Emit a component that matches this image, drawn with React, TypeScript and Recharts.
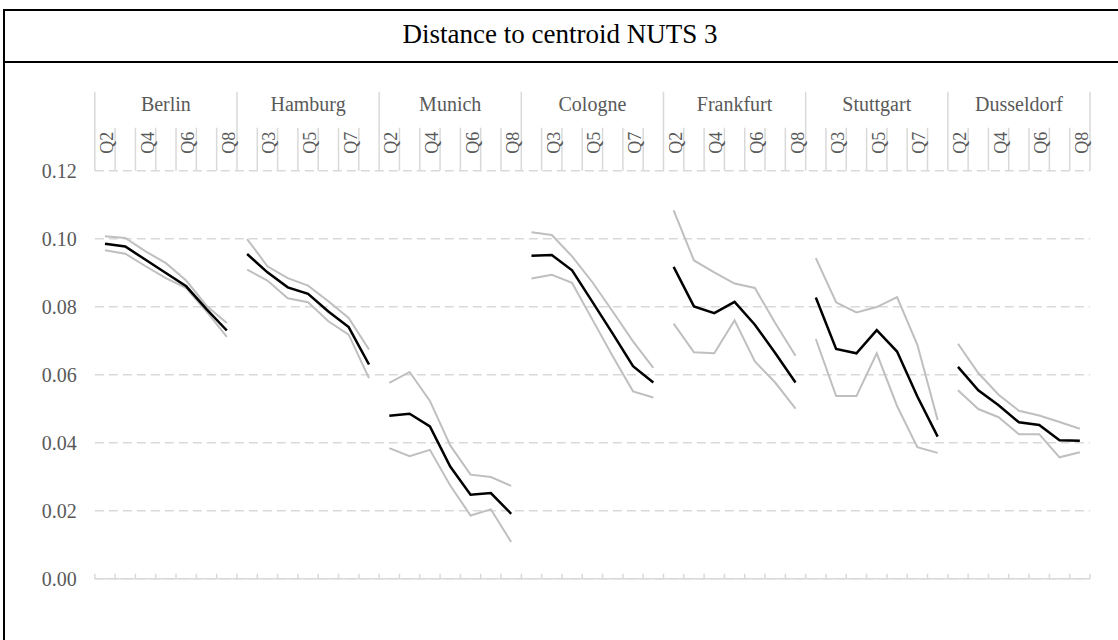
import { CartesianGrid, Line, LineChart, XAxis, YAxis } from 'recharts'

const CITIES = ['Berlin', 'Hamburg', 'Munich', 'Cologne', 'Frankfurt', 'Stuttgart', 'Dusseldorf']
const QUARTERS = ['Q2', 'Q3', 'Q4', 'Q5', 'Q6', 'Q7', 'Q8']
const Y_TICKS = [0, 0.02, 0.04, 0.06, 0.08, 0.1, 0.12]

// mean distance per city and quarter
const MEAN = [
  [0.0985, 0.0977, 0.0938, 0.0899, 0.086, 0.0793, 0.073],
  [0.0955, 0.0901, 0.0857, 0.0838, 0.0786, 0.074, 0.063],
  [0.0479, 0.0485, 0.0448, 0.033, 0.0247, 0.0252, 0.0191],
  [0.095, 0.0952, 0.0907, 0.0814, 0.0721, 0.0625, 0.0577],
  [0.0917, 0.0801, 0.0781, 0.0814, 0.0747, 0.0664, 0.0577],
  [0.0827, 0.0676, 0.0663, 0.0731, 0.0668, 0.0536, 0.0418],
  [0.0623, 0.0554, 0.051, 0.046, 0.0452, 0.0407, 0.0406],
]

// upper band
const UPPER = [
  [0.1007, 0.1002, 0.0963, 0.0928, 0.0877, 0.0803, 0.0752],
  [0.0999, 0.0919, 0.0884, 0.0862, 0.0816, 0.0767, 0.0674],
  [0.0576, 0.0608, 0.0523, 0.0392, 0.0306, 0.0299, 0.0273],
  [0.1019, 0.1011, 0.0948, 0.0872, 0.0786, 0.0698, 0.062],
  [0.1083, 0.0936, 0.0901, 0.0868, 0.0855, 0.0752, 0.0656],
  [0.0943, 0.0813, 0.0783, 0.0799, 0.0828, 0.0688, 0.0467],
  [0.0691, 0.0605, 0.0541, 0.0494, 0.048, 0.0461, 0.0441],
]

// lower band
const LOWER = [
  [0.0966, 0.0956, 0.0919, 0.0884, 0.0855, 0.0786, 0.0711],
  [0.0909, 0.0877, 0.0825, 0.0813, 0.0757, 0.0718, 0.059],
  [0.0384, 0.036, 0.0379, 0.0274, 0.0186, 0.0204, 0.0108],
  [0.0883, 0.0894, 0.087, 0.0762, 0.0654, 0.0551, 0.0533],
  [0.075, 0.0666, 0.0663, 0.076, 0.0639, 0.0577, 0.05],
  [0.0705, 0.0537, 0.0537, 0.0663, 0.0508, 0.0387, 0.037],
  [0.0554, 0.0499, 0.0475, 0.0425, 0.0425, 0.0357, 0.0372],
]

const NQ = QUARTERS.length
const COUNT = CITIES.length * NQ
const FONT = '"Liberation Serif", "Times New Roman", serif'
const LABEL = '#595959'
const RULE = '#d9d9d9'

// one row per city/quarter, each city gets its own keys so the lines break between cities
const rows = CITIES.flatMap((_, ci) =>
  QUARTERS.map((q, qi) => ({
    idx: ci * NQ + qi,
    quarter: q,
    ['mean' + ci]: MEAN[ci][qi],
    ['up' + ci]: UPPER[ci][qi],
    ['lo' + ci]: LOWER[ci][qi],
  })),
)

const centers = rows.map((r) => r.idx)
const bounds = Array.from({ length: COUNT + 1 }, (_, i) => i - 0.5)
const topTicks = [...bounds, ...centers]

function CategoryTick(props: any) {
  const { x, y, payload } = props
  const v = payload.value as number
  if (!Number.isInteger(v)) {
    const isCity = Number.isInteger((v + 0.5) / NQ)
    return <line x1={x} x2={x} y1={y - (isCity ? 79 : 43)} y2={y} stroke={RULE} strokeWidth={1.5} />
  }
  const ci = Math.floor(v / NQ)
  const qi = v % NQ
  return (
    <g>
      {v % 2 === 0 && (
        <text
          transform={`translate(${x + 2}, ${y - 28}) rotate(-90)`}
          textAnchor="middle"
          dominantBaseline="central"
          fontFamily={FONT}
          fontSize={18}
          fill={LABEL}
        >
          {QUARTERS[qi]}
        </text>
      )}
      {qi === 3 && (
        <text x={x} y={y - 60} textAnchor="middle" fontFamily={FONT} fontSize={20} fill={LABEL}>
          {CITIES[ci]}
        </text>
      )}
    </g>
  )
}

function BottomTick(props: any) {
  const { x, y } = props
  return <line x1={x} x2={x} y1={y - 5} y2={y} stroke={RULE} strokeWidth={1.5} />
}

export default function App() {
  return (
    <div style={{ position: 'absolute', left: 0, top: 0, width: 1118, height: 640, background: '#fff', overflow: 'hidden' }}>
      <div style={{ position: 'absolute', left: 3, top: 9, width: 1300, height: 800, border: '2px solid #000' }} />
      <div style={{ position: 'absolute', left: 3, top: 61, width: 1300, height: 2, background: '#000' }} />
      <div
        style={{
          position: 'absolute',
          left: 260,
          width: 600,
          top: 21,
          textAlign: 'center',
          fontFamily: FONT,
          fontSize: 27,
          lineHeight: '27px',
          color: '#000',
        }}
      >
        Distance to centroid NUTS 3
      </div>
      <div style={{ position: 'absolute', left: 0, top: 0 }}>
        <LineChart width={1118} height={640} data={rows} margin={{ top: 90.7, right: 28, bottom: 51.3, left: 0 }}>
          <CartesianGrid horizontal vertical={false} stroke={RULE} strokeWidth={1.5} strokeDasharray="9 5" />
          <XAxis
            xAxisId="top"
            orientation="top"
            dataKey="idx"
            type="number"
            domain={[-0.5, COUNT - 0.5]}
            ticks={topTicks}
            interval={0}
            height={80}
            axisLine={false}
            tickLine={false}
            tickSize={0}
            tickMargin={0}
            tick={<CategoryTick />}
          />
          <XAxis
            xAxisId="bottom"
            dataKey="idx"
            type="number"
            domain={[-0.5, COUNT - 0.5]}
            ticks={bounds}
            interval={0}
            height={10}
            axisLine={{ stroke: RULE, strokeWidth: 1.5 }}
            tickLine={false}
            tickSize={0}
            tickMargin={0}
            tick={<BottomTick />}
          />
          <YAxis
            domain={[0, 0.12]}
            ticks={Y_TICKS}
            width={94.8}
            axisLine={false}
            tickLine={false}
            tickSize={0}
            tickMargin={18}
            tickFormatter={(v: number) => v.toFixed(2)}
            tick={{ fontFamily: FONT, fontSize: 20, fill: LABEL }}
          />
          {CITIES.map((_, ci) => (
            <Line
              key={'up' + ci}
              xAxisId="bottom"
              dataKey={'up' + ci}
              stroke="#bfbfbf"
              strokeWidth={2}
              dot={false}
              activeDot={false}
              isAnimationActive={false}
            />
          ))}
          {CITIES.map((_, ci) => (
            <Line
              key={'lo' + ci}
              xAxisId="bottom"
              dataKey={'lo' + ci}
              stroke="#bfbfbf"
              strokeWidth={2}
              dot={false}
              activeDot={false}
              isAnimationActive={false}
            />
          ))}
          {CITIES.map((_, ci) => (
            <Line
              key={'mean' + ci}
              xAxisId="bottom"
              dataKey={'mean' + ci}
              stroke="#000"
              strokeWidth={2.5}
              dot={false}
              activeDot={false}
              isAnimationActive={false}
            />
          ))}
        </LineChart>
      </div>
    </div>
  )
}
